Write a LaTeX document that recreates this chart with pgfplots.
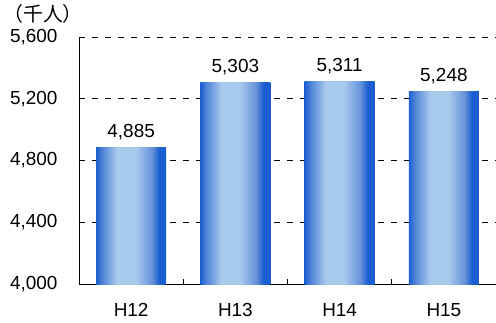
\documentclass[border=0pt]{standalone}
\usepackage{fontspec}
\setmainfont{Liberation Sans}
\newfontfamily\cjk{Noto Sans CJK JP}
\usepackage{pgfplots}
\pgfplotsset{compat=1.18}

\definecolor{bardark}{RGB}{26,94,207}
\definecolor{barmid}{RGB}{100,145,218}
\definecolor{barlight}{RGB}{168,202,237}
\pgfdeclarehorizontalshading{barshade}{100bp}{%
  color(0bp)=(bardark); color(25bp)=(bardark);
  color(29bp)=(barmid!70!bardark); color(40bp)=(barlight);
  color(53bp)=(barlight); color(65bp)=(barmid);
  color(70bp)=(bardark); color(75bp)=(bardark); color(100bp)=(bardark)}

\begin{document}
\begin{tikzpicture}
\begin{axis}[
  at={(0,0)}, anchor=south west,
  scale only axis,
  width=417bp, height=247bp,
  xmin=-0.5, xmax=3.5,
  ymin=4000, ymax=5600,
  axis x line*=bottom, axis y line*=left,
  axis line style={black, line width=0.8pt},
  xtick={0.5,1.5,2.5},
  xticklabels={},
  extra x ticks={0,1,2,3},
  extra x tick labels={H12,H13,H14,H15},
  extra x tick style={major tick length=0pt, grid=none,
     xticklabel style={yshift=-16bp}},
  ytick={4000,4400,4800,5200,5600},
  major tick length=5bp,
  tick align=inside,
  tick style={black, line width=0.8pt},
  ymajorgrids,
  major grid style={black, line width=0.8pt, dash pattern=on 6bp off 7bp},
  yticklabel style={xshift=-18bp},
  /pgf/number format/.cd, 1000 sep={,}, assume math mode=true,
  /pgfplots/.cd,
  tick label style={font=\fontsize{19}{22}\selectfont},
  bar width=70bp,
  cycle list={{black, mark=none}},
  nodes near coords={\pgfmathprintnumber[1000 sep={,},assume math mode=true]{\pgfplotspointmeta}},
  every node near coord/.append style={font=\fontsize{19}{22}\selectfont, black, yshift=4bp},
  every axis plot/.append style={ybar, bar shift=0pt, draw=none, shading=barshade},
  clip=false,
]
% one plot per year so that each bar carries its own shading
\addplot coordinates {(0,4885)};
\addplot coordinates {(1,5303)};
\addplot coordinates {(2,5311)};
\addplot coordinates {(3,5248)};
\end{axis}
\node[anchor=west, inner sep=0pt] at (-76bp,270bp) {\cjk\fontsize{20}{22}\selectfont （千人）};
\pgfresetboundingbox
\path (-79bp,-39bp) rectangle (417bp,284bp);
\end{tikzpicture}
\end{document}
